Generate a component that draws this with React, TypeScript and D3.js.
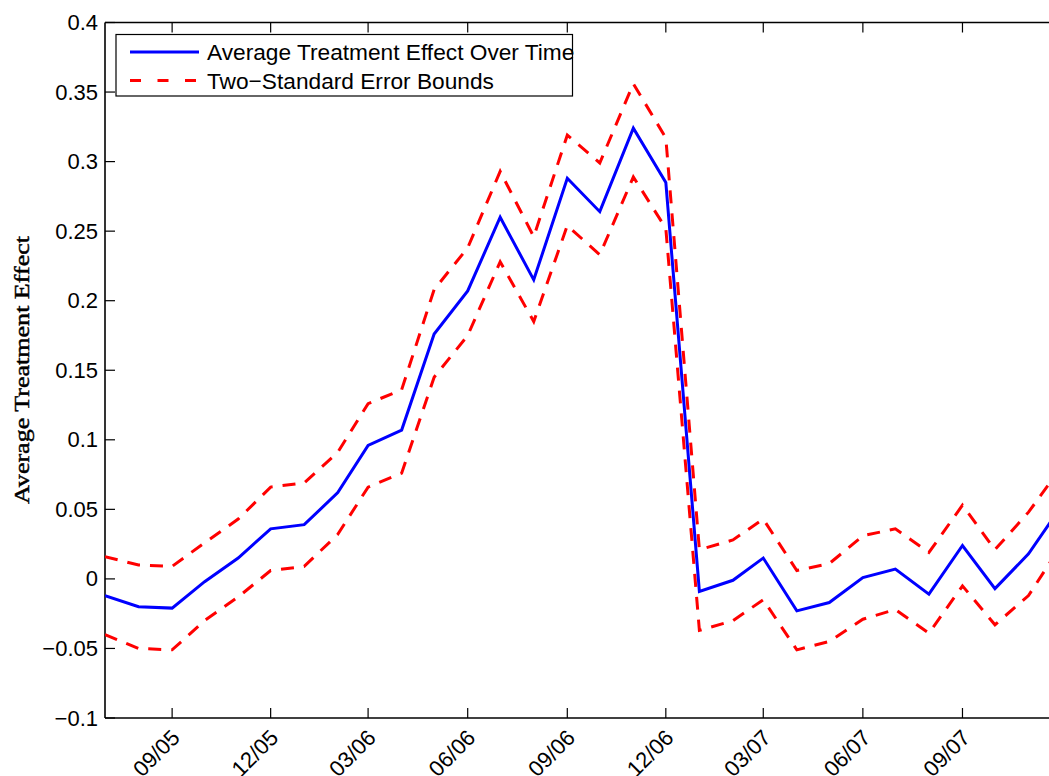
import React from "react";
import * as d3 from "d3";

const months: string[] = [
  "2005-07", "2005-08", "2005-09", "2005-10", "2005-11", "2005-12",
  "2006-01", "2006-02", "2006-03", "2006-04", "2006-05", "2006-06",
  "2006-07", "2006-08", "2006-09", "2006-10", "2006-11", "2006-12",
  "2007-01", "2007-02", "2007-03", "2007-04", "2007-05", "2007-06",
  "2007-07", "2007-08", "2007-09", "2007-10", "2007-11", "2007-12",
];

const ate: number[] = [
  -0.012, -0.020, -0.021, -0.002, 0.015, 0.036,
  0.039, 0.062, 0.096, 0.107, 0.176, 0.207,
  0.260, 0.215, 0.288, 0.264, 0.324, 0.285,
  -0.009, -0.001, 0.015, -0.023, -0.017, 0.001,
  0.007, -0.011, 0.024, -0.007, 0.018, 0.052,
];

const upper: number[] = [
  0.016, 0.010, 0.009, 0.026, 0.043, 0.066,
  0.069, 0.091, 0.126, 0.136, 0.208, 0.238,
  0.293, 0.246, 0.319, 0.299, 0.356, 0.317,
  0.021, 0.028, 0.043, 0.006, 0.011, 0.031,
  0.036, 0.019, 0.053, 0.021, 0.048, 0.080,
];

const lower: number[] = [
  -0.040, -0.050, -0.051, -0.030, -0.013, 0.006,
  0.009, 0.032, 0.066, 0.076, 0.145, 0.175,
  0.228, 0.185, 0.254, 0.233, 0.289, 0.252,
  -0.037, -0.030, -0.015, -0.051, -0.045, -0.029,
  -0.022, -0.039, -0.005, -0.033, -0.012, 0.024,
];

const xTickDates: string[] = [
  "2005-09", "2005-12", "2006-03", "2006-06", "2006-09",
  "2006-12", "2007-03", "2007-06", "2007-09",
];

const yTicks: number[] = [-0.1, -0.05, 0, 0.05, 0.1, 0.15, 0.2, 0.25, 0.3, 0.35, 0.4];

const legendLabels: string[] = ["Average Treatment Effect Over Time", "Two\u2212Standard Error Bounds"];
const yAxisLabel = "Average Treatment Effect";

const W = 1049;
const H = 776;
const LEFT = 105;
const RIGHT = 1061;
const TOP = 22.5;
const BOTTOM = 718;

const parse = (s: string) => d3.utcParse("%Y-%m")(s) as Date;

export default function App() {
  const dates = months.map(parse);
  const x = d3
    .scaleUtc()
    .domain([dates[0], dates[dates.length - 1]])
    .range([LEFT, RIGHT]);
  const y = d3.scaleLinear().domain([-0.1, 0.4]).range([BOTTOM, TOP]);

  const line = d3
    .line<number>()
    .x((_, i) => x(dates[i]))
    .y((d) => y(d));

  const fmtY = (v: number) => {
    const s = d3.format("~g")(Math.round(v * 1000) / 1000);
    return s.replace("-", "\u2212");
  };
  const fmtX = d3.utcFormat("%m/%y");
  const tickDates = xTickDates.map(parse);

  const font = "'Liberation Sans', Arial, Helvetica, sans-serif";

  return (
    <svg
      width={W}
      height={H}
      style={{ position: "absolute", left: 0, top: 0, background: "#fff" }}
    >
      <rect x={0} y={0} width={W} height={H} fill="#fff" />
      <defs>
        <clipPath id="plotclip">
          <rect x={LEFT} y={TOP - 5} width={RIGHT - LEFT} height={BOTTOM - TOP + 10} />
        </clipPath>
      </defs>

      {/* y ticks */}
      {yTicks.map((t) => (
        <g key={"y" + t}>
          <line x1={LEFT} x2={LEFT + 10} y1={y(t)} y2={y(t)} stroke="#000" strokeWidth={1.2} />
          <line x1={RIGHT} x2={RIGHT - 10} y1={y(t)} y2={y(t)} stroke="#000" strokeWidth={1.2} />
          <text
            x={LEFT - 7}
            y={y(t)}
            textAnchor="end"
            dominantBaseline="central"
            fontFamily={font}
            fontSize={22}
            fill="#000"
          >
            {fmtY(t)}
          </text>
        </g>
      ))}

      {/* x ticks */}
      {tickDates.map((d, i) => (
        <g key={"x" + i}>
          <line x1={x(d)} x2={x(d)} y1={BOTTOM} y2={BOTTOM - 10} stroke="#000" strokeWidth={1.2} />
          <line x1={x(d)} x2={x(d)} y1={TOP} y2={TOP + 10} stroke="#000" strokeWidth={1.2} />
          <text
            transform={`translate(${x(d) + 9},${BOTTOM + 21}) rotate(-45)`}
            textAnchor="end"
            fontFamily={font}
            fontSize={22}
            fill="#000"
          >
            {fmtX(d)}
          </text>
        </g>
      ))}

      {/* axes box */}
      <line x1={LEFT} x2={RIGHT} y1={BOTTOM} y2={BOTTOM} stroke="#000" strokeWidth={1.6} />
      <line x1={LEFT} x2={RIGHT} y1={TOP} y2={TOP} stroke="#000" strokeWidth={1.6} />
      <line x1={LEFT} x2={LEFT} y1={TOP} y2={BOTTOM} stroke="#000" strokeWidth={1.6} />
      <line x1={RIGHT} x2={RIGHT} y1={TOP} y2={BOTTOM} stroke="#000" strokeWidth={1.6} />

      {/* data */}
      <g clipPath="url(#plotclip)">
        <path d={line(upper) || ""} fill="none" stroke="#ff0000" strokeWidth={3} strokeDasharray="13 10" strokeLinejoin="miter" />
        <path d={line(lower) || ""} fill="none" stroke="#ff0000" strokeWidth={3} strokeDasharray="13 10" strokeLinejoin="miter" />
        <path d={line(ate) || ""} fill="none" stroke="#0000ff" strokeWidth={3} strokeLinejoin="miter" />
      </g>

      {/* legend */}
      <g>
        <rect x={116} y={34.5} width={456.5} height={61.5} fill="#fff" stroke="#000" strokeWidth={1.2} />
        <line x1={130} x2={199} y1={52} y2={52} stroke="#0000ff" strokeWidth={3} />
        <line x1={130} x2={199} y1={80.5} y2={80.5} stroke="#ff0000" strokeWidth={3} strokeDasharray="11 16.5" />
        <text x={207} y={52} dominantBaseline="central" fontFamily={font} fontSize={22.7} fill="#000">
          {legendLabels[0]}
        </text>
        <text x={207} y={80.5} dominantBaseline="central" fontFamily={font} fontSize={22.7} fill="#000">
          {legendLabels[1]}
        </text>
      </g>

      {/* y label */}
      <text
        transform={`translate(29,370) rotate(-90)`}
        textAnchor="middle"
        fontFamily="'Liberation Serif', 'Times New Roman', serif"
        fontSize={22}
        textLength={268}
        lengthAdjust="spacingAndGlyphs"
        fill="#000"
        stroke="#000"
        strokeWidth={0.45}
      >
        {yAxisLabel}
      </text>
    </svg>
  );
}
